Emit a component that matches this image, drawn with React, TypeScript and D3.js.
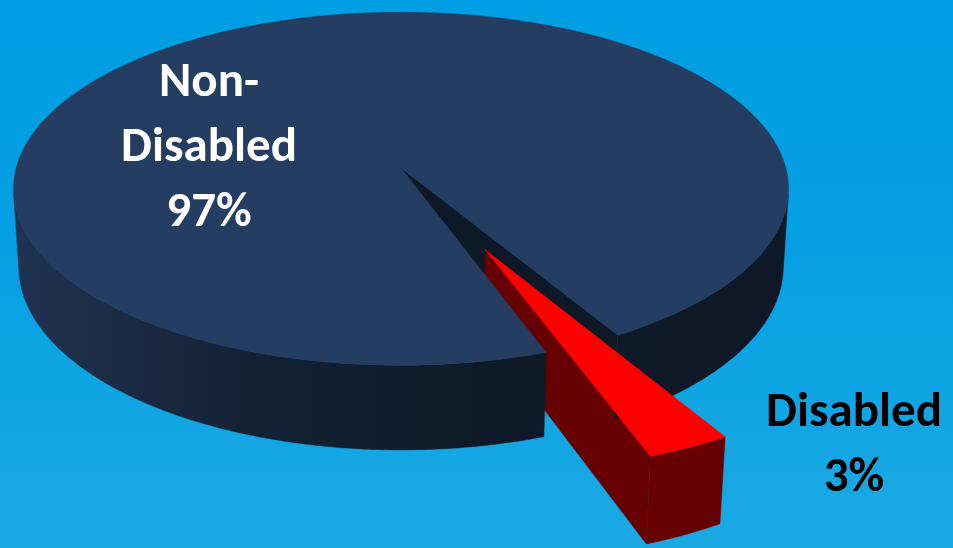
import React from "react";
import * as d3 from "d3";

// ---- data ----
const categories = ["Disabled", "Non-Disabled"];
const values = [3, 97];
const percentLabels = ["3%", "97%"];
const topColors = ["#FF0000", "#243D60"];
const explode = [0.49, 0];
const labelColors = ["#000000", "#FFFFFF"];

// ---- layout / camera ----
const W = 953;
const H = 548;
const CX = 401;
const CY = 168;
const F = 2925;
const L = 7.6;
const TH = (26.9 * Math.PI) / 180;
const T = 0.229;
const cosT = Math.cos(TH);
const sinT = Math.sin(TH);
const cam = [0, L * cosT, L * sinT];
const START = (149.6 * Math.PI) / 180;

const labelPos = [
  { x: 854, y: 426, dy: 65 },
  { x: 209, y: 96, dy: 65 },
];

type P2 = [number, number];

function proj(X: number, Y: number, Z: number): P2 {
  const c = Y * cosT + Z * sinT;
  const u = -Y * sinT + Z * cosT;
  const w = L - c;
  return [CX + (F * X) / w, CY - (F * u) / w];
}

const line = d3.line<P2>().x((d) => d[0]).y((d) => d[1]);

function arcPts(ox: number, oy: number, a0: number, a1: number, z: number): P2[] {
  const n = Math.max(2, Math.ceil((Math.abs(a1 - a0) * 180) / Math.PI / 0.5));
  const pts: P2[] = [];
  for (let i = 0; i <= n; i++) {
    const a = a0 + ((a1 - a0) * i) / n;
    pts.push(proj(ox + Math.cos(a), oy + Math.sin(a), z));
  }
  return pts;
}

export default function App() {
  const arcs = d3
    .pie<number>()
    .sort(null)
    .startAngle(START)
    .endAngle(START + 2 * Math.PI)(values);

  type Face = { d: string; fill: string; depth: number; key: string };
  const radial: Face[] = [];
  const sidesBack: Face[] = [];
  const topsBack: Face[] = [];
  const front: Face[] = [];

  arcs.forEach((arc, i) => {
    const a0 = arc.startAngle - Math.PI / 2;
    const a1 = arc.endAngle - Math.PI / 2;
    const mid = (a0 + a1) / 2;
    const e = explode[i];
    const ox = e * Math.cos(mid);
    const oy = e * Math.sin(mid);
    const base = d3.color(topColors[i])!;
    const radialFill = base.darker(2.55).formatHex();
    const sideFill = `url(#side${i})`;

    // radial faces
    const faces: [number, number, number][] = [
      [a0, Math.sin(a0), -Math.cos(a0)],
      [a1, -Math.sin(a1), Math.cos(a1)],
    ];
    faces.forEach(([a, nx, ny], k) => {
      const vis = nx * (cam[0] - ox) + ny * (cam[1] - oy) > 0;
      if (!vis) return;
      const ex = ox + Math.cos(a);
      const ey = oy + Math.sin(a);
      const pts: P2[] = [proj(ox, oy, 0), proj(ex, ey, 0), proj(ex, ey, -T), proj(ox, oy, -T)];
      const cxm = ox + Math.cos(a) / 2;
      const cym = oy + Math.sin(a) / 2;
      const depth = Math.hypot(cam[0] - cxm, cam[1] - cym, cam[2] + T / 2);
      radial.push({ d: line(pts)! + "Z", fill: radialFill, depth, key: `r${i}${k}` });
    });

    // outer side: visible runs
    const step = (0.25 * Math.PI) / 180;
    const n = Math.ceil((a1 - a0) / step);
    const runs: number[][] = [];
    let cur: number[] | null = null;
    for (let j = 0; j <= n; j++) {
      const a = Math.min(a1, a0 + j * step);
      const px = ox + Math.cos(a);
      const py = oy + Math.sin(a);
      const vis = Math.cos(a) * (cam[0] - px) + Math.sin(a) * (cam[1] - py) > 0;
      if (vis) {
        if (!cur) {
          cur = [];
          runs.push(cur);
        }
        cur.push(a);
      } else cur = null;
    }
    const sideFaces: Face[] = runs
      .filter((r) => r.length > 1)
      .map((r, k) => {
        const top = arcPts(ox, oy, r[0], r[r.length - 1], 0);
        const bot = arcPts(ox, oy, r[0], r[r.length - 1], -T).reverse();
        return { d: line([...top, ...bot])! + "Z", fill: sideFill, depth: 0, key: `s${i}${k}` };
      });

    const topPts: P2[] = [proj(ox, oy, 0), ...arcPts(ox, oy, a0, a1, 0)];
    const topFace: Face = { d: line(topPts)! + "Z", fill: base.formatHex(), depth: 0, key: `t${i}` };

    if (e > 0) {
      front.push(...sideFaces, topFace);
    } else {
      sidesBack.push(...sideFaces);
      topsBack.push(topFace);
    }
  });

  radial.sort((a, b) => b.depth - a.depth);
  const faces = [...radial, ...sidesBack, ...topsBack, ...front];

  const sideStops = [
    { o: 0, k: 0.45 },
    { o: 0.3, k: 1.6 },
    { o: 0.6, k: 2.4 },
    { o: 1, k: 2.6 },
  ];

  return (
    <svg
      width={W}
      height={H}
      viewBox={`0 0 ${W} ${H}`}
      style={{ position: "absolute", left: 0, top: 0, display: "block" }}
    >
      <defs>
        <linearGradient id="bg" x1="0" y1="0" x2="0" y2="1">
          <stop offset="0" stopColor="#009EE2" />
          <stop offset="0.45" stopColor="#05A0E3" />
          <stop offset="1" stopColor="#1BA9E4" />
        </linearGradient>
        {topColors.map((c, i) => (
          <linearGradient key={i} id={`side${i}`} gradientUnits="userSpaceOnUse" x1={10} y1={0} x2={790} y2={0}>
            {sideStops.map((s, j) => (
              <stop key={j} offset={s.o} stopColor={d3.color(c)!.darker(s.k).formatHex()} />
            ))}
          </linearGradient>
        ))}
      </defs>
      <rect x={0} y={0} width={W} height={H} fill="url(#bg)" />
      {faces.map((f) => (
        <path key={f.key} d={f.d} fill={f.fill} stroke={f.fill} strokeWidth={0.4} strokeLinejoin="round" />
      ))}
      {categories.map((cat, i) => {
        const lines = i === 1 ? ["Non-", "Disabled", percentLabels[i]] : [cat, percentLabels[i]];
        const p = labelPos[i];
        return (
          <text
            key={cat}
            textAnchor="middle"
            fontFamily="Carlito, Calibri, Lato, sans-serif"
            fontWeight="bold"
            fontSize={49}
            fill={labelColors[i]}
          >
            {lines.map((t, j) => (
              <tspan key={j} x={p.x} y={p.y + j * p.dy}>
                {t}
              </tspan>
            ))}
          </text>
        );
      })}
    </svg>
  );
}
